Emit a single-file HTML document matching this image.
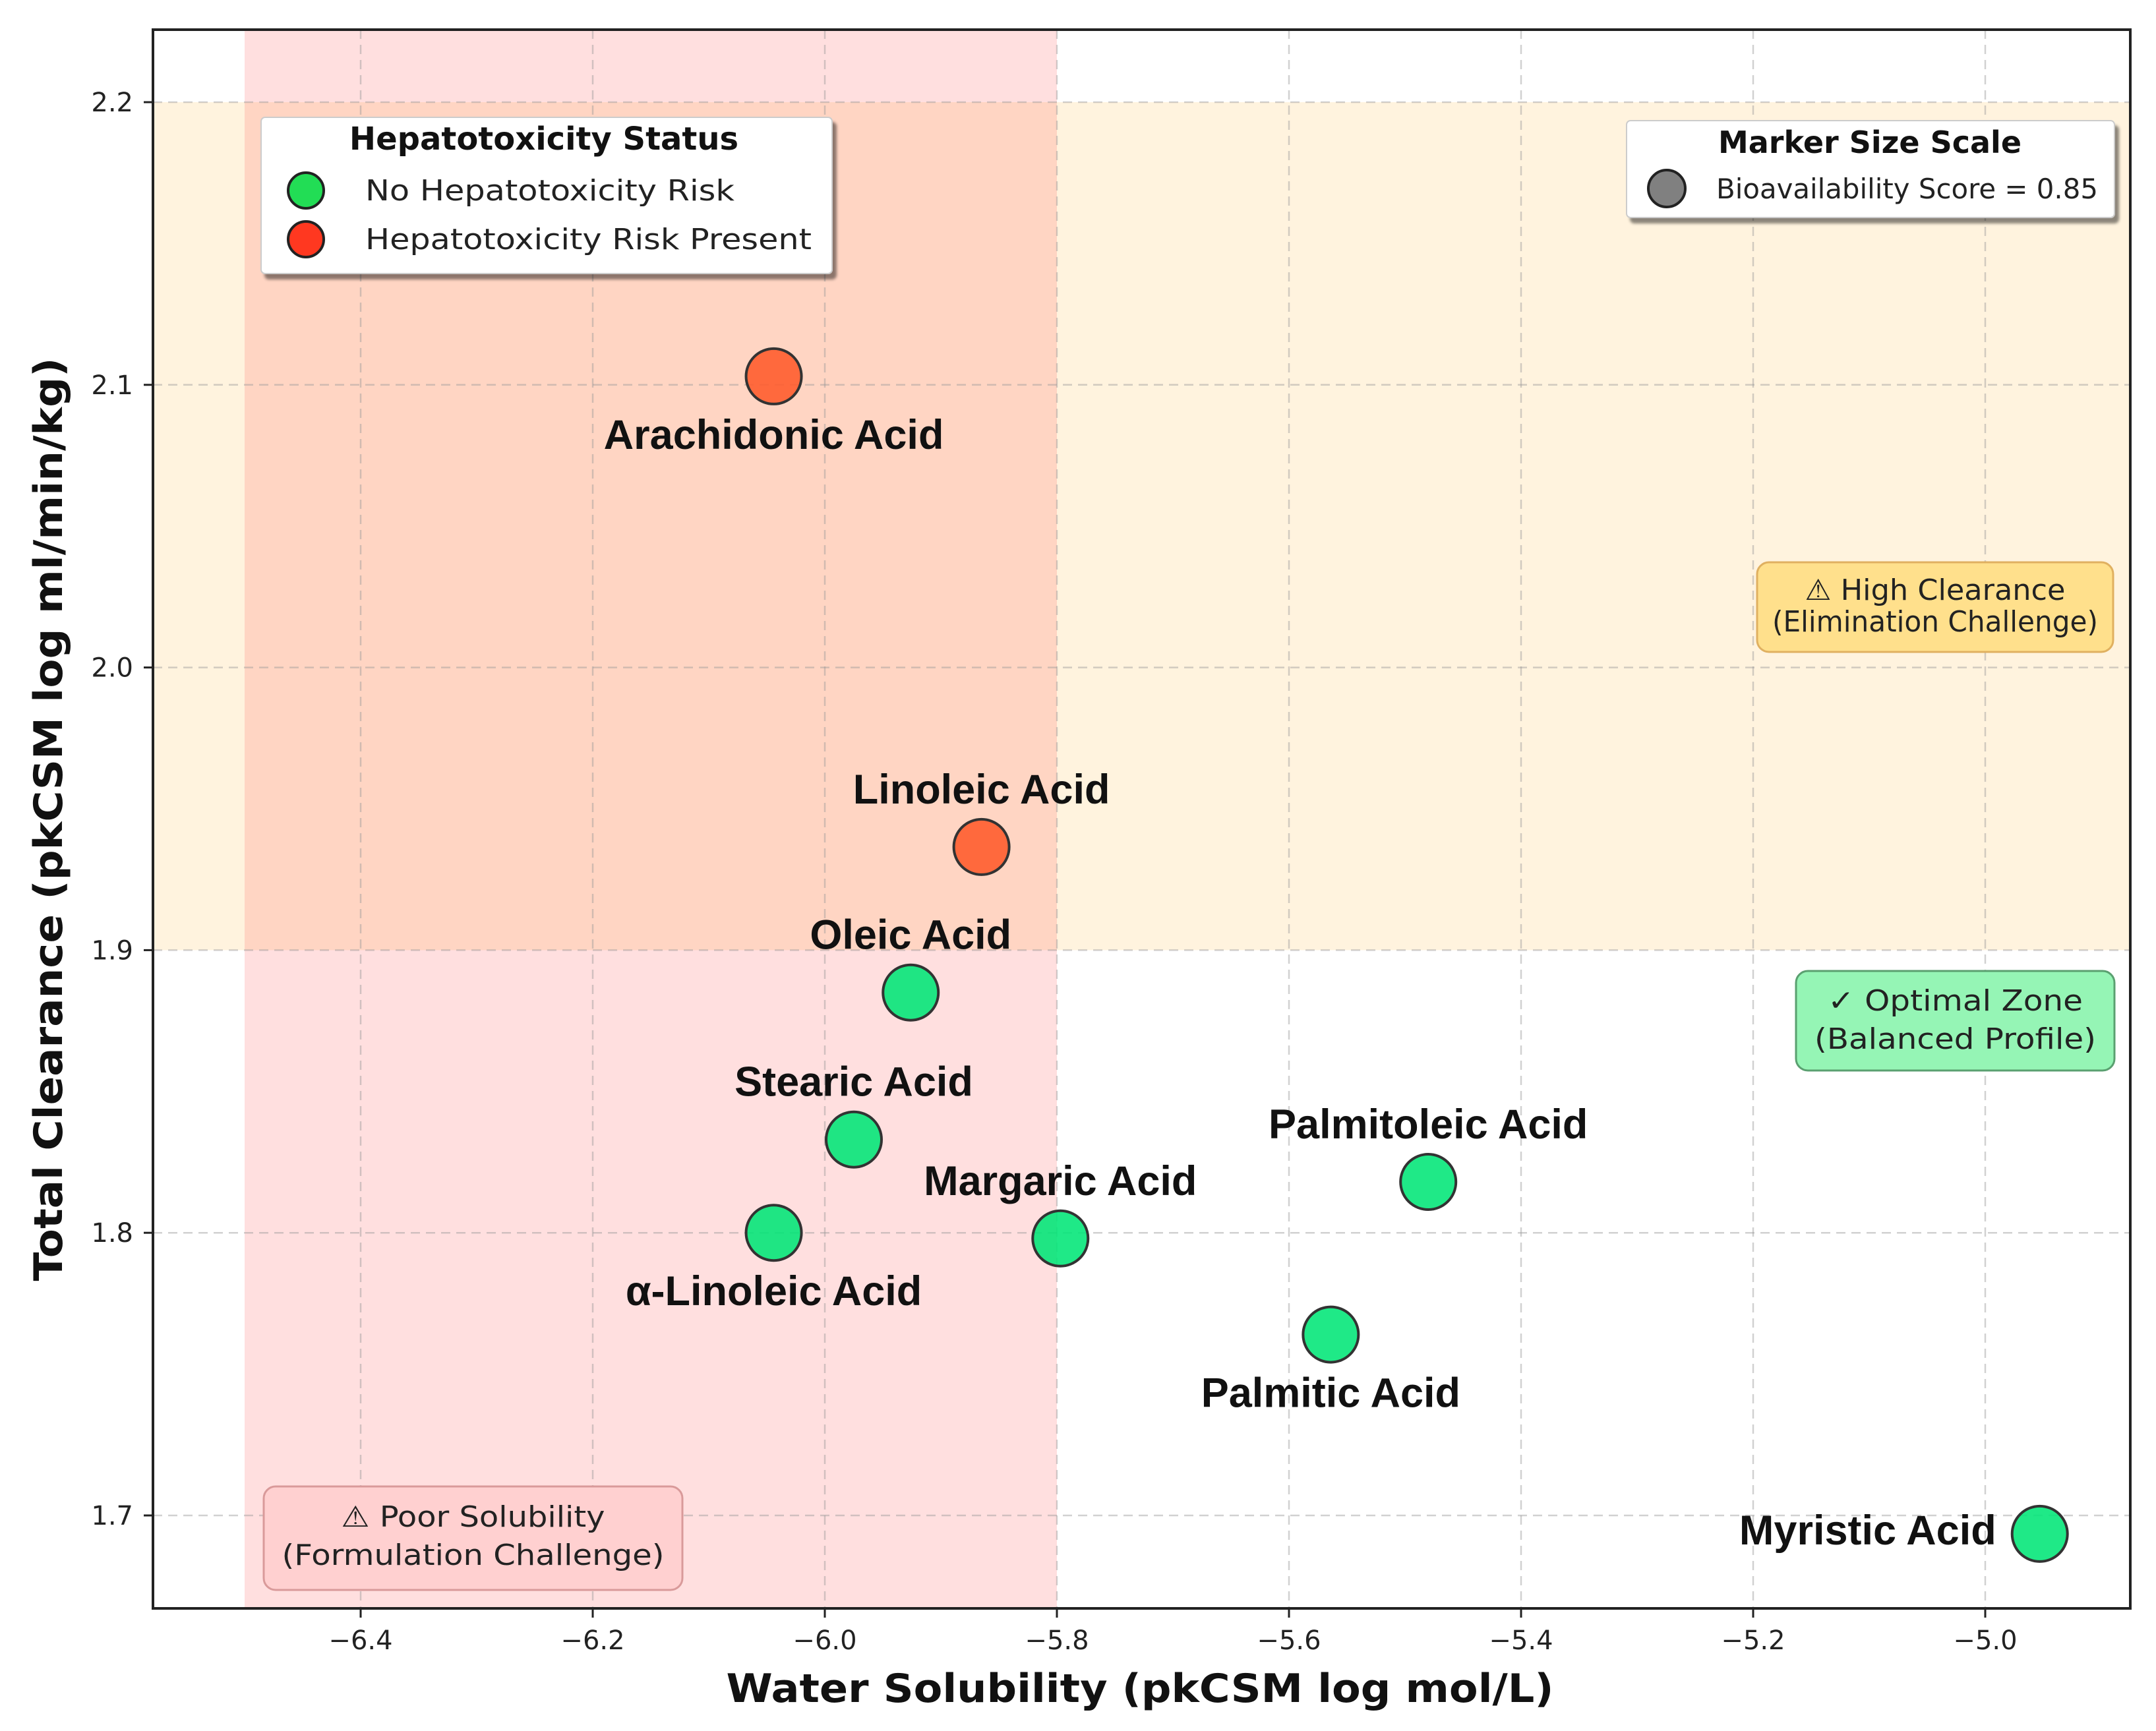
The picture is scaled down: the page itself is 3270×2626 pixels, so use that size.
<!DOCTYPE html>
<html><head><meta charset="utf-8"><style>
html,body{margin:0;padding:0;background:#fff}
svg{display:block}
</style></head><body>
<svg id="chart" xmlns="http://www.w3.org/2000/svg" width="3270" height="2626" viewBox="0 0 3270 2626">
<defs>
<clipPath id="plotclip"><rect x="232" y="45" width="2999" height="2395"/></clipPath>
<filter id="shadow" x="-5%" y="-5%" width="115%" height="125%"><feDropShadow dx="6" dy="8" stdDeviation="2" flood-color="#000" flood-opacity="0.45"/></filter>
</defs>
<g id="zones" clip-path="url(#plotclip)"></g>
<g id="grid" clip-path="url(#plotclip)"></g>
<g id="annot"></g>
<g id="points"></g>
<g id="labels"></g>
<rect x="232" y="45" width="2999" height="2395" fill="none" stroke="#222" stroke-width="4"/>
<g id="ticks"></g>
<text x="1729" y="2582" text-anchor="middle" font-family="DejaVu Sans, sans-serif" font-weight="bold" font-size="60" textLength="1255" lengthAdjust="spacingAndGlyphs" fill="#111">Water Solubility (pkCSM log mol/L)</text>
<text transform="translate(94,1243) rotate(-90)" text-anchor="middle" font-family="DejaVu Sans, sans-serif" font-weight="bold" font-size="60" textLength="1401" lengthAdjust="spacingAndGlyphs" fill="#111">Total Clearance (pkCSM log ml/min/kg)</text>

<g>
<rect x="396" y="178" width="866" height="237" rx="6" fill="#fff" stroke="#ccc" stroke-width="2" filter="url(#shadow)"/>
<text x="825" y="227" text-anchor="middle" font-family="DejaVu Sans, sans-serif" font-weight="bold" font-size="48" fill="#111">Hepatotoxicity Status</text>
<circle cx="464" cy="289" r="27" fill="#22dd55" stroke="#222" stroke-width="4"/>
<text x="554" y="304" font-family="DejaVu Sans, sans-serif" font-size="44" textLength="560" lengthAdjust="spacingAndGlyphs" fill="#222">No Hepatotoxicity Risk</text>
<circle cx="464" cy="363" r="27" fill="#ff3820" stroke="#222" stroke-width="4"/>
<text x="554" y="378" font-family="DejaVu Sans, sans-serif" font-size="44" textLength="677" lengthAdjust="spacingAndGlyphs" fill="#222">Hepatotoxicity Risk Present</text>
</g>

<g>
<rect x="2467" y="183" width="740" height="147" rx="6" fill="#fff" stroke="#ccc" stroke-width="2" filter="url(#shadow)"/>
<text x="2836" y="232" text-anchor="middle" font-family="DejaVu Sans, sans-serif" font-weight="bold" font-size="46" fill="#111">Marker Size Scale</text>
<circle cx="2528" cy="286" r="28" fill="#808080" stroke="#222" stroke-width="4"/>
<text x="2603" y="301" font-family="DejaVu Sans, sans-serif" font-size="42" textLength="579" lengthAdjust="spacingAndGlyphs" fill="#222">Bioavailability Score = 0.85</text>
</g>

<script>
const xTicks = [-6.4, -6.2, -6.0, -5.8, -5.6, -5.4, -5.2, -5.0];
const xTickLabels = ["\u22126.4","\u22126.2","\u22126.0","\u22125.8","\u22125.6","\u22125.4","\u22125.2","\u22125.0"];
const yTicks = [1.7, 1.8, 1.9, 2.0, 2.1, 2.2];
const yTickLabels = ["1.7","1.8","1.9","2.0","2.1","2.2"];
const names = ["Arachidonic Acid","Linoleic Acid","Oleic Acid","Stearic Acid","\u03b1-Linoleic Acid","Margaric Acid","Palmitoleic Acid","Palmitic Acid","Myristic Acid"];
const solubility = [-6.044, -5.865, -5.926, -5.975, -6.044, -5.797, -5.48, -5.564, -4.953];
const clearance = [2.103, 1.9365, 1.885, 1.833, 1.80, 1.798, 1.818, 1.764, 1.6935];
const hepatotoxic = [true, true, false, false, false, false, false, false, false];
const labelPos = ["below","above","above","above","below","above","above","below","left"];

const NS = "http://www.w3.org/2000/svg";
function X(v){ return 547 + (v + 6.4) / 0.2 * 352; }
function Y(v){ return 155 + (2.2 - v) / 0.1 * 428.8; }
function mk(tag, attrs, parent){ const e=document.createElementNS(NS,tag); for(const k in attrs) e.setAttribute(k,attrs[k]); parent.appendChild(e); return e; }

const L=232, R=3231, T=45, B=2440;
const zones=document.getElementById('zones');
let z;
z=mk('rect',{x:L,y:Y(2.2),width:R-L,height:Y(1.9)-Y(2.2),fill:'#ffa500','fill-opacity':'0.13'},zones);


z=mk('rect',{x:X(-6.5),y:T,width:X(-5.8)-X(-6.5),height:B-T,fill:'#ff4444','fill-opacity':'0.17'},zones);



const grid=document.getElementById('grid');
xTicks.forEach(v=>{ const g=mk('line',{x1:X(v),x2:X(v),y1:T,y2:B,stroke:'#999','stroke-opacity':'0.45','stroke-width':2.5,'stroke-dasharray':'14,9'},grid);
 
  });
yTicks.forEach(v=>{ const g=mk('line',{x1:L,x2:R,y1:Y(v),y2:Y(v),stroke:'#999','stroke-opacity':'0.45','stroke-width':2.5,'stroke-dasharray':'14,9'},grid);
 
  });

const ticks=document.getElementById('ticks');
xTicks.forEach((v,i)=>{ const t=mk('line',{x1:X(v),x2:X(v),y1:B,y2:B+14,stroke:'#222','stroke-width':3},ticks);
 
 
 const tx=mk('text',{x:X(v),y:B+62,'text-anchor':'middle','font-family':'DejaVu Sans, sans-serif','font-size':40,fill:'#222'},ticks);
 tx.textContent=xTickLabels[i];
 
  });
yTicks.forEach((v,i)=>{ const t=mk('line',{x1:L-14,x2:L,y1:Y(v),y2:Y(v),stroke:'#222','stroke-width':3},ticks);
 
 
 const tx=mk('text',{x:L-30,y:Y(v)+14,'text-anchor':'end','font-family':'DejaVu Sans, sans-serif','font-size':40,fill:'#222'},ticks);
 tx.textContent=yTickLabels[i];
 
  });

const annot=document.getElementById('annot');
function box(x,y,w,h,fill,stroke,lines,name){
 const g=mk('g',{},annot);
 
 
 mk('rect',{x:x,y:y,width:w,height:h,rx:18,fill:fill,stroke:stroke,'stroke-width':3},g);
 lines.forEach(l=>{ const t=mk('text',{x:x+w/2,y:l[1],'text-anchor':'middle','font-family':'DejaVu Sans, sans-serif','font-size':44,fill:'#222',textLength:l[2],lengthAdjust:'spacingAndGlyphs'},g); t.textContent=l[0]; });
}
box(400,2255,635,157,'#ffd0d0','#d99a9a',[["\u26a0 Poor Solubility",2316,400],["(Formulation Challenge)",2374,580]],'poor-solubility-annotation');
box(2665,853,540,136,'#ffe08c','#e0b060',[["\u26a0 High Clearance",910,395],["(Elimination Challenge)",958,494]],'high-clearance-annotation');
box(2724,1473,483,151,'#95f5b5','#5aa070',[["\u2713 Optimal Zone",1533,387],["(Balanced Profile)",1591,427]],'optimal-zone-annotation');

const pts=document.getElementById('points'), lbs=document.getElementById('labels');
names.forEach((n,i)=>{
 const cx=X(solubility[i]), cy=Y(clearance[i]);
 const c=mk('circle',{cx:cx,cy:cy,r:42,fill:hepatotoxic[i]?'#ff5a2a':'#00e676','fill-opacity':0.88,stroke:'#333','stroke-width':4},pts);
 
 
 let tx=cx, ty=cy, anchor='middle';
 if(labelPos[i]==='below'){ ty=cy+110; }
 else if(labelPos[i]==='above'){ ty=cy-66; }
 else { tx=cx-66; ty=cy+16; anchor='end'; }
 const t=mk('text',{x:tx,y:ty,'text-anchor':anchor,'font-family':'Liberation Sans, Arial, sans-serif','font-weight':'bold','font-size':63,fill:'#111'},lbs);
 t.textContent=n;
 
 
});
</script>
</svg>
</body></html>
